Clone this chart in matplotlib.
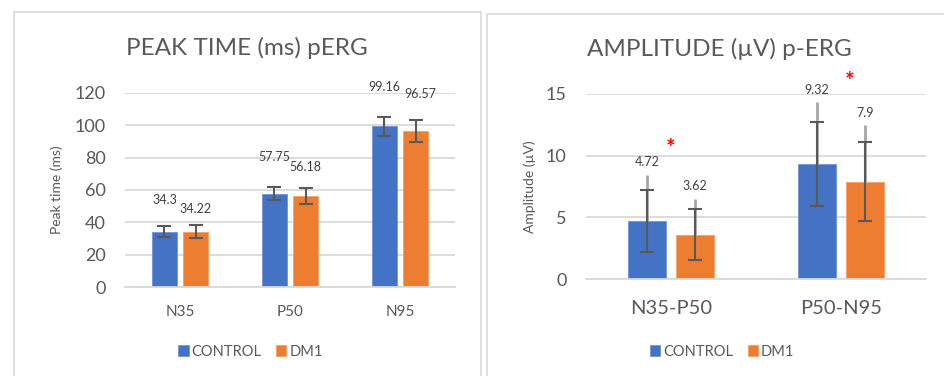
import numpy as np
import matplotlib.pyplot as plt
from matplotlib.patches import Rectangle

plt.rcParams["font.family"] = ["Lato", "DejaVu Sans"]

### data ###
groups = ["CONTROL", "DM1"]
colors = ["#4472C4", "#ED7D31"]

peak_cats = ["N35", "P50", "N95"]
peak_control = [34.3, 57.75, 99.16]
peak_dm1 = [34.22, 56.18, 96.57]
peak_control_err = [3.2, 4.0, 5.8]
peak_dm1_err = [4.1, 4.8, 6.8]
peak_ticks = [0, 20, 40, 60, 80, 100, 120]

amp_cats = ["N35-P50", "P50-N95"]
amp_control = [4.72, 9.32]
amp_dm1 = [3.62, 7.9]
amp_control_err = [2.48, 3.43]
amp_dm1_err = [2.1, 3.2]
amp_control_err_hi = [3.74, 4.99]
amp_dm1_err_hi = [2.9, 4.55]
amp_ticks = [0, 5, 10, 15]
sig_marks = [(0.0, 10.6), (1.05, 15.95)]

txt = "#595959"
grid = "#D9D9D9"
errc = "#595959"
w = 0.225
off = 0.141

fig = plt.figure(figsize=(9.45, 3.76), dpi=100)

# panel borders
fig.patches.append(Rectangle((14/945, -0.1), (481-14)/945, 1.1 - 12/376, transform=fig.transFigure,
                             fill=False, edgecolor=grid, lw=1.2))
fig.patches.append(Rectangle((487/945, -0.1), 0.6, 1.1 - 14/376, transform=fig.transFigure,
                             fill=False, edgecolor=grid, lw=1.2))


def style(ax, ticks, cats):
    ax.set_yticks(ticks)
    ax.set_ylim(ticks[0], ticks[-1])
    ax.set_xticks(np.arange(len(cats)))
    ax.set_xticklabels(cats)
    ax.set_xlim(-0.5, len(cats) - 0.5)
    ax.yaxis.grid(True, color=grid, lw=1.3)
    ax.set_axisbelow(True)
    for s in ["top", "right", "left"]:
        ax.spines[s].set_visible(False)
    ax.spines["bottom"].set_color(grid)
    ax.spines["bottom"].set_linewidth(1.3)
    ax.tick_params(length=0, colors=txt)


# left: peak time
ax1 = fig.add_axes([125/945, 1 - 287.3/376, 330/945, 194.6/376])
x = np.arange(len(peak_cats))
ax1.bar(x - off, peak_control, w, color=colors[0], label=groups[0], edgecolor="#6f93d6", lw=0.6)
ax1.bar(x + off, peak_dm1, w, color=colors[1], label=groups[1], edgecolor="#f4a06a", lw=0.6)
ax1.errorbar(x - off, peak_control, yerr=peak_control_err, fmt="none", ecolor=errc, capsize=5, elinewidth=1.5, capthick=1.5)
ax1.errorbar(x + off, peak_dm1, yerr=peak_dm1_err, fmt="none", ecolor=errc, capsize=5, elinewidth=1.5, capthick=1.5)
style(ax1, peak_ticks, peak_cats)
ax1.tick_params(axis="y", labelsize=13, pad=14)
ax1.tick_params(axis="x", labelsize=11, pad=13)
ax1.set_ylabel("Peak time (ms)", color=txt, fontsize=10, labelpad=8)
fig.text(247/945, 1 - 48/376, "PEAK TIME (ms) pERG", color=txt, fontsize=17.5, ha="center", va="center")
lab_off1 = [[26, 30, 30], [16, 21, 26]]
lab_dx1 = [[0, 0, 0], [0, 0, 5]]
for i, (vals, errs) in enumerate([(peak_control, peak_control_err), (peak_dm1, peak_dm1_err)]):
    for j in range(len(vals)):
        ax1.annotate(f"{vals[j]:g}", (x[j] + (2*i - 1) * off, vals[j] + errs[j]),
                     xytext=(lab_dx1[i][j] * 0.72, lab_off1[i][j] * 0.72),
                     textcoords="offset points", ha="center", va="center", fontsize=9, color="#404040",
                     annotation_clip=False)
ax1.legend(loc="center", bbox_to_anchor=(0.38, -0.33), ncol=2, frameon=False, fontsize=10.5,
           labelcolor=txt, handlelength=0.7, handleheight=0.7, handletextpad=0.2, columnspacing=1.0)

# right: amplitude
ax2 = fig.add_axes([586/945, 1 - 279.3/376, 340/945, 185.6/376])
x2 = np.arange(len(amp_cats))
ax2.bar(x2 - off, amp_control, w, color=colors[0], label=groups[0], edgecolor="#6f93d6", lw=0.6)
ax2.bar(x2 + off, amp_dm1, w, color=colors[1], label=groups[1], edgecolor="#f4a06a", lw=0.6)
ax2.errorbar(x2 - off, amp_control, yerr=[np.zeros(2), amp_control_err_hi], fmt="none", ecolor="#A6A6A6", capsize=0, elinewidth=2)
ax2.errorbar(x2 + off, amp_dm1, yerr=[np.zeros(2), amp_dm1_err_hi], fmt="none", ecolor="#A6A6A6", capsize=0, elinewidth=2)
ax2.errorbar(x2 - off, amp_control, yerr=amp_control_err, fmt="none", ecolor=errc, capsize=5, elinewidth=1.5, capthick=1.5)
ax2.errorbar(x2 + off, amp_dm1, yerr=amp_dm1_err, fmt="none", ecolor=errc, capsize=5, elinewidth=1.5, capthick=1.5)
style(ax2, amp_ticks, amp_cats)
ax2.tick_params(axis="y", labelsize=13, pad=14)
ax2.tick_params(axis="x", labelsize=14.5, pad=15)
ax2.set_ylabel("Amplitude (µV)", color=txt, fontsize=10, labelpad=7)
fig.text(719/945, 1 - 49/376, "AMPLITUDE (µV) p-ERG", color=txt, fontsize=17.5, ha="center", va="center")
for i, (vals, errs) in enumerate([(amp_control, amp_control_err_hi), (amp_dm1, amp_dm1_err_hi)]):
    for j in range(len(vals)):
        ax2.annotate(f"{vals[j]:g}", (x2[j] + (2*i - 1) * off, vals[j] + errs[j]), xytext=(0, 9),
                     textcoords="offset points", ha="center", va="center", fontsize=9, color="#404040",
                     annotation_clip=False)
for sx, sy in sig_marks:
    ax2.text(sx, sy, "*", color="red", fontsize=16, fontweight="bold", ha="center", va="center", clip_on=False)
ax2.legend(loc="center", bbox_to_anchor=(0.4, -0.39), ncol=2, frameon=False, fontsize=10.5,
           labelcolor=txt, handlelength=0.7, handleheight=0.7, handletextpad=0.2, columnspacing=1.0)

fig.savefig("out.png", dpi=100)
